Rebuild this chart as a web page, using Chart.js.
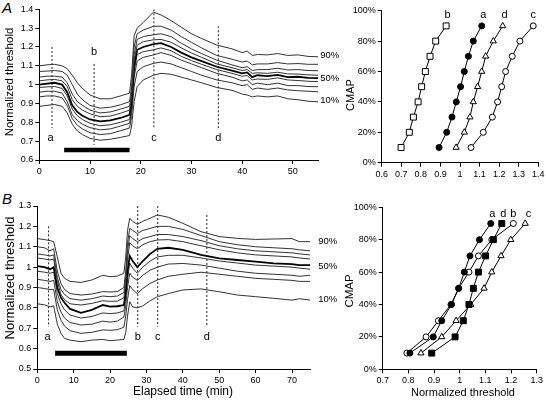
<!DOCTYPE html>
<html><head><meta charset="utf-8">
<script src="https://cdn.jsdelivr.net/npm/chart.js@4.4.1/dist/chart.umd.min.js"></script>
<style>
html,body{margin:0;padding:0;background:#fff;width:546px;height:403px;overflow:hidden}
canvas{position:absolute;left:0;top:0}
.plab{position:absolute;font:italic 15px "Liberation Sans",Arial,sans-serif;line-height:15px;color:#000}
</style></head><body>
<div class="plab" style="left:2px;top:0px">A</div>
<div class="plab" style="left:2px;top:191px">B</div>
<canvas id="cA1" width="546" height="403"></canvas>
<canvas id="cA2" width="546" height="403"></canvas>
<canvas id="cB1" width="546" height="403"></canvas>
<canvas id="cB2" width="546" height="403"></canvas>
<script>
// ---------- Panel A (left): time course of threshold percentiles ----------
const timeA = [0,1.5,3,4.5,5.5,6.5,7.5,8.5,10,12,14,16,17.8,18.2,18.7,19.3,20.5,22.5,24,26,28,30,32,35,38,40,41,42,43,45,47,49,51,53,55];
const a90 = [1.10,1.105,1.108,1.10,1.085,1.05,1.01,0.98,0.945,0.925,0.925,0.94,0.955,1.05,1.26,1.30,1.33,1.385,1.37,1.34,1.305,1.27,1.245,1.21,1.19,1.17,1.178,1.155,1.16,1.158,1.165,1.155,1.158,1.15,1.148];
const a80 = [1.07,1.072,1.075,1.07,1.05,1.0,0.95,0.92,0.89,0.875,0.88,0.893,0.91,0.99,1.2,1.27,1.29,1.31,1.31,1.29,1.255,1.225,1.195,1.155,1.135,1.12,1.125,1.105,1.11,1.11,1.117,1.11,1.112,1.108,1.108];
const a70 = [1.04,1.045,1.045,1.04,1.01,0.95,0.91,0.89,0.865,0.85,0.855,0.87,0.885,0.96,1.16,1.24,1.255,1.265,1.27,1.255,1.22,1.19,1.165,1.13,1.105,1.09,1.095,1.075,1.08,1.08,1.087,1.078,1.08,1.075,1.074];
const a60 = [1.02,1.025,1.028,1.02,0.99,0.92,0.885,0.865,0.845,0.83,0.833,0.848,0.865,0.93,1.13,1.21,1.228,1.238,1.24,1.225,1.195,1.168,1.145,1.11,1.09,1.075,1.08,1.06,1.063,1.06,1.066,1.057,1.056,1.052,1.05];
const a50 = [1.00,1.005,1.01,1.0,0.96,0.89,0.855,0.835,0.815,0.805,0.81,0.823,0.84,0.91,1.1,1.185,1.2,1.215,1.22,1.2,1.17,1.145,1.125,1.095,1.075,1.06,1.065,1.04,1.05,1.045,1.052,1.04,1.042,1.036,1.035];
const a40 = [0.985,0.988,0.99,0.98,0.94,0.87,0.835,0.815,0.795,0.782,0.787,0.8,0.815,0.88,1.07,1.16,1.175,1.185,1.195,1.18,1.15,1.128,1.108,1.08,1.06,1.045,1.048,1.025,1.03,1.028,1.036,1.025,1.022,1.018,1.016];
const a30 = [0.96,0.965,0.965,0.955,0.91,0.84,0.81,0.79,0.772,0.76,0.765,0.78,0.795,0.86,1.04,1.125,1.145,1.158,1.17,1.155,1.13,1.11,1.09,1.06,1.04,1.02,1.025,1.0,1.008,1.0,1.008,0.995,0.995,0.99,0.989];
const a20 = [0.935,0.94,0.94,0.93,0.89,0.82,0.785,0.765,0.745,0.735,0.74,0.755,0.77,0.83,0.99,1.07,1.095,1.113,1.12,1.11,1.09,1.07,1.05,1.025,1.01,0.995,1.0,0.975,0.982,0.975,0.982,0.972,0.968,0.965,0.962];
const a10 = [0.885,0.89,0.895,0.885,0.85,0.79,0.755,0.735,0.715,0.705,0.71,0.72,0.73,0.78,0.91,0.99,1.025,1.05,1.06,1.055,1.04,1.025,1.01,0.985,0.97,0.95,0.945,0.935,0.94,0.935,0.94,0.925,0.92,0.912,0.909];
const markTimesA = [2.5,10.8,22.6,35.3];
const markTopA = [1.20,1.11,1.40,1.31];
const markBotA = [0.77,0.68,0.77,0.77];
const markLabelsA = ['a','b','c','d'];
const barA = [4.9,17.8];

// ---------- Panel B (left) ----------
const timeB = [0,2,3.5,4.5,5.5,6.5,7.5,9,12,15,18,20,22,23.8,24.3,24.8,25.4,26.2,27.5,29,31,33,36,40,45,50,55,60,65,70,72,75];
const b90 = [1.14,1.135,1.13,1.125,1.05,0.97,0.945,0.93,0.925,0.937,0.96,0.953,0.956,0.97,1.05,1.18,1.24,1.225,1.21,1.225,1.24,1.256,1.245,1.215,1.174,1.15,1.141,1.136,1.138,1.14,1.125,1.125];
const b80 = [1.10,1.095,1.08,1.09,0.98,0.92,0.89,0.87,0.863,0.868,0.88,0.878,0.88,0.90,0.98,1.12,1.19,1.18,1.165,1.18,1.19,1.20,1.20,1.185,1.155,1.125,1.11,1.10,1.095,1.09,1.085,1.08];
const b70 = [1.065,1.06,1.055,1.06,0.95,0.89,0.865,0.845,0.838,0.845,0.858,0.855,0.858,0.875,0.95,1.08,1.155,1.14,1.125,1.14,1.15,1.16,1.16,1.15,1.13,1.105,1.09,1.08,1.075,1.07,1.065,1.06];
const b60 = [1.045,1.04,1.035,1.04,0.93,0.865,0.84,0.82,0.814,0.822,0.835,0.832,0.833,0.85,0.92,1.04,1.12,1.105,1.09,1.11,1.125,1.133,1.135,1.125,1.105,1.085,1.07,1.06,1.055,1.05,1.045,1.04];
const b50 = [1.005,1.0,0.99,1.0,0.9,0.85,0.825,0.795,0.776,0.79,0.814,0.806,0.808,0.814,0.88,0.98,1.055,1.03,1.0,1.03,1.065,1.09,1.095,1.085,1.06,1.043,1.035,1.027,1.018,1.015,1.01,1.01];
const b40 = [0.98,0.975,0.97,0.975,0.87,0.82,0.79,0.765,0.75,0.758,0.775,0.772,0.775,0.785,0.85,0.94,1.02,0.995,0.97,1.0,1.03,1.05,1.058,1.058,1.045,1.03,1.02,1.01,1.005,1.0,0.995,0.99];
const b30 = [0.94,0.935,0.93,0.935,0.83,0.78,0.75,0.728,0.716,0.72,0.735,0.73,0.735,0.755,0.81,0.9,0.97,0.95,0.935,0.96,0.985,1.0,1.015,1.018,1.01,0.995,0.98,0.97,0.965,0.96,0.955,0.96];
const b20 = [0.90,0.895,0.89,0.89,0.79,0.74,0.71,0.688,0.675,0.68,0.692,0.69,0.693,0.705,0.76,0.84,0.91,0.89,0.87,0.895,0.92,0.937,0.955,0.965,0.975,0.965,0.955,0.945,0.94,0.935,0.93,0.93];
const b10 = [0.82,0.815,0.805,0.81,0.72,0.675,0.65,0.642,0.634,0.642,0.645,0.639,0.642,0.645,0.68,0.76,0.83,0.805,0.80,0.81,0.835,0.855,0.87,0.888,0.893,0.879,0.863,0.855,0.847,0.838,0.845,0.838];
const markTimesB = [3.1,27.6,33.1,46.6];
const markTopB = [1.20,1.30,1.30,1.256];
const markBotB = [0.707,0.707,0.707,0.707];
const markLabelsB = ['a','b','c','d'];
const barB = [4.9,24.6];

// ---------- Right panels: CMAP (%) vs normalized threshold ----------
const cmapLevels = [10,20,30,40,50,60,70,80,90];
const rA_a = [0.893,0.932,0.959,0.981,1.003,1.022,1.043,1.068,1.111];
const rA_b = [0.699,0.741,0.762,0.786,0.804,0.823,0.847,0.876,0.929];
const rA_c = [1.056,1.119,1.165,1.192,1.213,1.233,1.267,1.306,1.374];
const rA_d = [0.980,1.022,1.051,1.068,1.090,1.111,1.131,1.170,1.218];
const rB_a = [0.806,0.897,0.930,0.968,0.996,1.018,1.040,1.077,1.121];
const rB_b = [0.794,0.869,0.917,0.966,0.996,1.036,1.073,1.125,1.209];
const rB_c = [0.849,0.930,0.986,1.043,1.095,1.125,1.161,1.199,1.255];
const rB_d = [0.891,0.982,1.014,1.036,1.053,1.073,1.101,1.131,1.164];

// ---------- helpers ----------
Chart.defaults.font.family = 'Liberation Sans';
Chart.defaults.font.size = 9;
Chart.defaults.color = '#000';
const fmt1 = v => String(Math.round(v*10)/10);
const pts = (xs, ys) => xs.map((x,i)=>({x, y:ys[i]}));
const traceColor = '#333';

function notesPlugin(items, titles){
  return {id:'notes', afterDatasetsDraw(chart){
    const {ctx, scales:{x, y}} = chart;
    ctx.save();
    ctx.fillStyle = '#000';
    ctx.textBaseline = 'middle';
    items.forEach(it=>{
      ctx.font = it.font;
      ctx.textAlign = it.align || 'center';
      ctx.fillText(it.text, x.getPixelForValue(it.x), y.getPixelForValue(it.y));
    });
    titles.forEach(t=>{
      ctx.save();
      ctx.font = t.font;
      ctx.textAlign = 'center';
      ctx.translate(t.cx, t.cy);
      if (t.rot) ctx.rotate(-Math.PI/2);
      ctx.fillText(t.text, 0, 0);
      ctx.restore();
    });
    ctx.restore();
  }};
}

function axis(extra, fitFn){
  return Object.assign({
    type:'linear',
    grid:{drawOnChartArea:false, drawTicks:true, tickLength:4, color:'#000', lineWidth:1},
    border:{color:'#000', width:1},
    afterFit: fitFn
  }, extra);
}

function makeChart(id, box, datasets, xs, ys, notes, titles){
  const zero = s => { s.paddingLeft=0; s.paddingRight=0; s.paddingTop=0; s.paddingBottom=0; };
  new Chart(document.getElementById(id), {
    type:'scatter',
    data:{datasets},
    options:{
      responsive:false, animation:false, devicePixelRatio:1,
      layout:{padding:{left:box.l-box.yW, top:box.t, right:546-box.r, bottom:403-box.b-box.xH}},
      plugins:{legend:{display:false}, tooltip:{enabled:false}},
      elements:{line:{tension:0}},
      scales:{
        x: axis(Object.assign({position:'bottom'}, xs), s => { s.height = box.xH; zero(s); }),
        y: axis(Object.assign({position:'left'}, ys), s => { s.width = box.yW; zero(s); })
      }
    },
    plugins:[notesPlugin(notes, titles)]
  });
}

function traceSets(time, series){
  return series.map((v,i)=>({data:pts(time, v), showLine:true, pointRadius:0,
    borderColor: i===4 ? '#000' : traceColor, borderWidth: i===4 ? 1.8 : 1}));
}
function markSets(times, tops, bots){
  return times.map((t,i)=>({data:[{x:t,y:tops[i]},{x:t,y:bots[i]}], showLine:true, pointRadius:0,
    borderColor:'#222', borderWidth:1, borderDash:[2,2]}));
}
function barSet(range, level, w){
  return {data:[{x:range[0],y:level},{x:range[1],y:level}], showLine:true, pointRadius:0,
    borderColor:'#000', borderWidth:w, borderCapStyle:'butt'};
}
function cmapSet(xs, style, filled, r){
  return {data:pts(xs, cmapLevels), showLine:true, borderColor:'#000', borderWidth:1,
    pointStyle:style, pointRadius:r, pointBackgroundColor: filled ? '#000' : '#fff',
    pointBorderColor:'#000', pointBorderWidth:1};
}

const tickFont = {size:9};
const letterFont = '11px "Liberation Sans"';
const pctFont = '9.5px "Liberation Sans"';
const F = s => s + 'px "Liberation Sans"';

// Panel A left
makeChart('cA1', {l:39.3, t:9.3, r:318.2, b:160, yW:37, xH:22},
  [...traceSets(timeA, [a90,a80,a70,a60,a50,a40,a30,a20,a10]),
   ...markSets(markTimesA, markTopA, markBotA),
   barSet(barA, 0.653, 4.5)],
  {min:0, max:55, ticks:{stepSize:10, includeBounds:false, font:tickFont, padding:2}},
  {min:0.6, max:1.4, ticks:{stepSize:0.1, font:tickFont, padding:2, callback:fmt1}},
  [...markLabelsA.map((s,i)=>({text:s, x:markTimesA[i]-(i===0?0.3:0), y: i===1 ? 1.175 : 0.715, font:letterFont})),
   {text:'90%', x:55.4, y:1.157, align:'left', font:pctFont},
   {text:'50%', x:55.4, y:1.034, align:'left', font:pctFont},
   {text:'10%', x:55.4, y:0.915, align:'left', font:pctFont}],
  [{text:'Normalized threshold', cx:10, cy:82, rot:true, font:F(11.5)}]);

// Panel A right
makeChart('cA2', {l:381.7, t:10.7, r:538.3, b:162.7, yW:33, xH:22},
  [cmapSet(rA_b,'rect',false,4.2), cmapSet(rA_a,'circle',true,3), cmapSet(rA_d,'triangle',false,3.6), cmapSet(rA_c,'circle',false,3)],
  {min:0.6, max:1.4, ticks:{stepSize:0.1, font:tickFont, padding:2, callback:fmt1}},
  {min:0, max:100, ticks:{stepSize:20, font:tickFont, padding:2, callback:v=>v+'%'}},
  [{text:'b', x:0.937, y:97, font:letterFont},{text:'a', x:1.119, y:97, font:letterFont},
   {text:'d', x:1.228, y:97, font:letterFont},{text:'c', x:1.374, y:97, font:letterFont}],
  [{text:'CMAP', cx:351, cy:95, rot:true, font:F(11)}]);

// Panel B left
makeChart('cB1', {l:37.3, t:206, r:310.2, b:369, yW:36, xH:30},
  [...traceSets(timeB, [b90,b80,b70,b60,b50,b40,b30,b20,b10]),
   ...markSets(markTimesB, markTopB, markBotB),
   barSet(barB, 0.577, 5)],
  {min:0, max:75, ticks:{stepSize:10, includeBounds:false, font:tickFont, padding:2}},
  {min:0.5, max:1.3, ticks:{stepSize:0.1, font:tickFont, padding:2, callback:fmt1}},
  [...markLabelsB.map((s,i)=>({text:s, x:markTimesB[i]-(i===0?0.3:0), y:0.658, font:letterFont})),
   {text:'90%', x:77.2, y:1.125, align:'left', font:pctFont},
   {text:'50%', x:77.2, y:1.005, align:'left', font:pctFont},
   {text:'10%', x:77.2, y:0.842, align:'left', font:pctFont}],
  [{text:'Normalized threshold', cx:10, cy:278, rot:true, font:F(13)},
   {text:'Elapsed time (min)', cx:183, cy:392, rot:false, font:F(12)}]);

// Panel B right
makeChart('cB2', {l:382.7, t:207.3, r:536.7, b:369.3, yW:39, xH:30},
  [cmapSet(rB_a,'circle',true,3), cmapSet(rB_d,'rect',true,4.2), cmapSet(rB_c,'triangle',false,3.6), cmapSet(rB_b,'circle',false,3)],
  {min:0.7, max:1.3, ticks:{stepSize:0.1, font:tickFont, padding:2, callback:fmt1}},
  {min:0, max:100, ticks:{stepSize:20, font:tickFont, padding:2, callback:v=>v+'%'}},
  [{text:'a', x:1.127, y:96, font:letterFont},{text:'d', x:1.17, y:96, font:letterFont},
   {text:'b', x:1.209, y:96, font:letterFont},{text:'c', x:1.268, y:96, font:letterFont}],
  [{text:'CMAP', cx:350, cy:291, rot:true, font:F(11.5)},
   {text:'Normalized threshold', cx:463, cy:393, rot:false, font:F(11)}]);
</script>
</body></html>
